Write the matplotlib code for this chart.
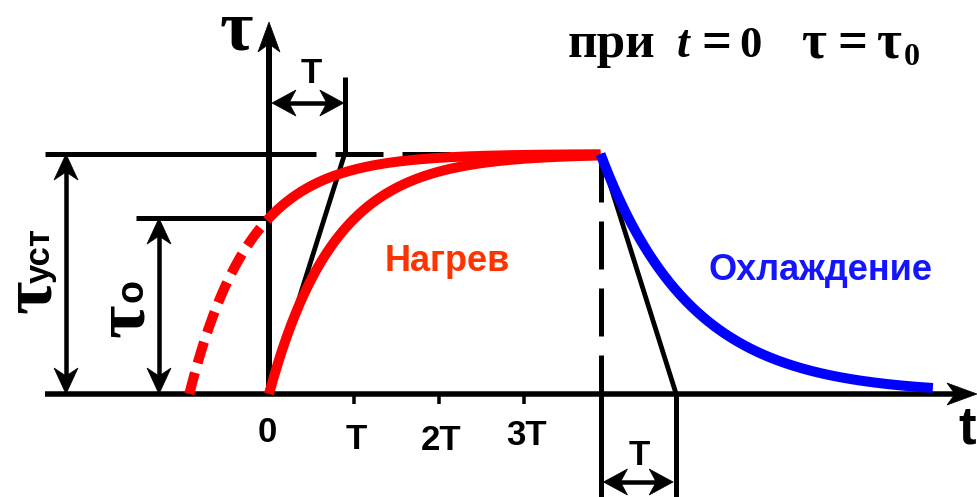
import numpy as np
import matplotlib
matplotlib.use("Agg")
import matplotlib.pyplot as plt
from matplotlib.patches import Polygon

plt.rcParams['lines.scale_dashes'] = False

# ---- model values (time in units of the tick step, temperature rise in units of tau_ust)
tick_positions = [1, 2, 3]
tick_labels = ['T', '2T', '3T']
tau_ust = 1.0          # steady-state temperature rise
tau_0 = 0.733          # initial temperature rise of the upper curve
T_tangent = 0.89       # subtangent drawn on the heating / cooling curves
T_heat = 0.765         # time constant of the heating curve from zero
T_heat0 = 0.71         # time constant of the heating curve from tau_0
T_cool = 1.06          # time constant of the cooling curve
t_off = 3.9            # moment the load is removed
t_end = 7.81           # end of the drawn cooling curve

RED = '#ff0000'
BLUE = '#0000ff'

# ---- canvas: pixel <-> data mapping (axes fill the whole figure)
W, H = 978, 497
OX, OY = 269, 394      # origin in pixels
SX, SY = 85.0, 240.0   # pixels per time unit / per tau_ust

fig = plt.figure(figsize=(W / 100, H / 100), dpi=100)
ax = fig.add_axes([0, 0, 1, 1])
ax.set_xlim(-OX / SX, (W - OX) / SX)
ax.set_ylim((OY - H) / SY, OY / SY)
ax.axis('off')


def P(xp, yp):
    """pixel position -> data position"""
    return (xp - OX) / SX, (OY - yp) / SY


def lw(px):
    return px * 0.72


def head(tip, direction, length=28, half=11, notch=20):
    """filled barbed arrow head, sizes in pixels"""
    dx, dy = direction
    n = np.hypot(dx, dy)
    dx, dy = dx / n, dy / n
    px, py = -dy, dx
    pts_px = [(0, 0),
              (-length * dx + half * px, -length * dy + half * py),
              (-notch * dx, -notch * dy),
              (-length * dx - half * px, -length * dy - half * py)]
    pts = [(tip[0] + a / SX, tip[1] + b / SY) for a, b in pts_px]
    ax.add_patch(Polygon(pts, closed=True, facecolor='black', edgecolor='black',
                         linewidth=0.5, zorder=6))


def line(xs, ys, w=5, **kw):
    kw.setdefault('color', 'black')
    kw.setdefault('solid_capstyle', 'butt')
    kw.setdefault('dash_capstyle', 'butt')
    ax.plot(xs, ys, linewidth=lw(w), **kw)


LONG_DASH = (0, (lw(48), lw(19)))

# ---- coordinate axes
x_left, _ = P(45, 0)
x_tip, _ = P(977, 0)
_, y_tip = P(0, 22)
line([x_left, x_tip - 20 / SX], [0, 0], w=5.5, zorder=4)
head((x_tip, 0), (1, 0), length=30, half=11, notch=22)
line([0, 0], [0, y_tip - 20 / SY], w=6, zorder=4)
head((0, y_tip), (0, 1), length=30, half=11, notch=22)

# ticks under the time axis
for tp in tick_positions:
    line([tp, tp], [0, -10 / SY], w=3.5)

# ---- steady-state level and tau_0 level
x_sol_end, _ = P(316, 0)
x_dash_start, _ = P(335, 0)
line([x_left, x_sol_end], [tau_ust, tau_ust], w=5)
line([x_dash_start, t_off], [tau_ust, tau_ust], w=5, linestyle=LONG_DASH)
x_t0_left, _ = P(136, 0)
line([x_t0_left, 0], [tau_0, tau_0], w=5)

# dimension arrows for tau_ust and tau_0
x_dim1, _ = P(66, 0)
x_dim2, _ = P(159, 0)
for xd, top in ((x_dim1, tau_ust), (x_dim2, tau_0)):
    line([xd, xd], [0 + 15 / SY, top - 15 / SY], w=4.5)
    head((xd, top), (0, 1), length=26, half=12, notch=18)
    head((xd, 0), (0, -1), length=26, half=12, notch=18)

# ---- tangents
line([0, T_tangent], [0, tau_ust], w=4.8, zorder=3)
_, y_ext_top = P(0, 77)
line([T_tangent, T_tangent], [tau_ust, y_ext_top], w=5, zorder=3)
_, y_arr_top = P(0, 103)
line([0 + 12 / SX, T_tangent - 12 / SX], [y_arr_top, y_arr_top], w=4.5)
head((0.035, y_arr_top), (-1, 0), length=24, half=13, notch=17)
head((T_tangent - 0.01, y_arr_top), (1, 0), length=24, half=13, notch=17)

line([t_off, t_off + T_tangent], [tau_ust, 0], w=4.8, zorder=3)
_, y_bottom = P(0, H)
line([t_off, t_off], [tau_ust, 0], w=5, linestyle=LONG_DASH, zorder=3)
line([t_off, t_off], [0, y_bottom], w=5, zorder=3)
line([t_off + T_tangent, t_off + T_tangent], [0, y_bottom], w=5, zorder=3)
_, y_arr_bot = P(0, 482)
line([t_off + 12 / SX, t_off + T_tangent - 12 / SX], [y_arr_bot, y_arr_bot], w=4.5)
head((t_off + 0.035, y_arr_bot), (-1, 0), length=24, half=13, notch=17)
head((t_off + T_tangent - 0.035, y_arr_bot), (1, 0), length=24, half=13, notch=17)

# ---- heating curves
t_h = np.linspace(0, t_off, 300)
ax.plot(t_h, tau_ust * (1 - np.exp(-t_h / T_heat)), color=RED, linewidth=lw(10),
        solid_capstyle='butt', zorder=5)

t_start = -T_heat0 * np.log(tau_ust / (tau_ust - tau_0))
t_neg = np.linspace(t_start, 0, 100)
t_pos = np.linspace(0, t_off, 300)


def upper(t):
    return tau_ust - (tau_ust - tau_0) * np.exp(-t / T_heat0)


ax.plot(t_neg, upper(t_neg), color=RED, linewidth=lw(10),
        linestyle=(0, (lw(22), lw(10))), dash_capstyle='butt', zorder=5)
ax.plot(t_pos, upper(t_pos), color=RED, linewidth=lw(10), solid_capstyle='butt', zorder=5)

# ---- cooling curve
t_c = np.linspace(t_off, t_end, 300)
ax.plot(t_c, tau_ust * np.exp(-(t_c - t_off) / T_cool), color=BLUE, linewidth=lw(10),
        solid_capstyle='butt', zorder=5)

# ---- labels
sans = dict(family='Liberation Sans', weight='bold')
serif = dict(family='Liberation Serif', weight='bold')

ax.text(*P(267, 442), '0', ha='center', va='baseline', fontsize=25, **sans)
for tp, lab, yb in zip(tick_positions, tick_labels, (449, 450, 445)):
    ax.text(tp + 0.03, P(0, yb)[1], lab, ha='center', va='baseline', fontsize=25, **sans)

ax.text(*P(311, 83), 'T', ha='center', va='baseline', fontsize=25, **sans)
ax.text(*P(639, 465), 'T', ha='center', va='baseline', fontsize=25, **sans)

ax.text(*P(236, 50), 'τ', ha='center', va='baseline', fontsize=52, **serif)
ax.text(*P(958, 443), 't', ha='left', va='baseline', fontsize=38, **sans)

ax.text(*P(50, 313), 'τ', rotation=90, rotation_mode='anchor', ha='left',
        va='baseline', fontsize=52, **serif)
ax.text(*P(50, 283), 'уст', rotation=90, rotation_mode='anchor', ha='left',
        va='baseline', fontsize=25, **sans)
ax.text(*P(143, 337), 'τ', rotation=90, rotation_mode='anchor', ha='left',
        va='baseline', fontsize=52, **serif)
ax.text(*P(143, 302), 'о', rotation=90, rotation_mode='anchor', ha='left',
        va='baseline', fontsize=27, **sans)

ax.text(*P(447, 271), 'Нагрев', ha='center', va='baseline', fontsize=26,
        color='#ff3300', **sans)
ax.text(*P(821, 280), 'Охлаждение', ha='center', va='baseline', fontsize=26,
        color='#1414ff', **sans)

# initial condition note, set piece by piece (text, centre x, baseline y, size, style)
ax.text(*P(568, 57), 'при', ha='left', va='baseline', fontsize=37, **serif)
note = [('t', 683, 57, 33, 'italic'),
        ('=', 716, 57, 38, 'normal'),
        ('0', 750, 57, 32, 'normal'),
        ('τ', 814, 57, 39, 'normal'),
        ('=', 852, 57, 38, 'normal'),
        ('τ', 889, 57, 39, 'normal'),
        ('0', 912, 65, 23, 'normal')]
for txt, xp, yp, fs, style in note:
    ax.text(*P(xp, yp), txt, ha='center', va='baseline', fontsize=fs,
            style=style, **serif)

fig.savefig('out.png', dpi=100)
